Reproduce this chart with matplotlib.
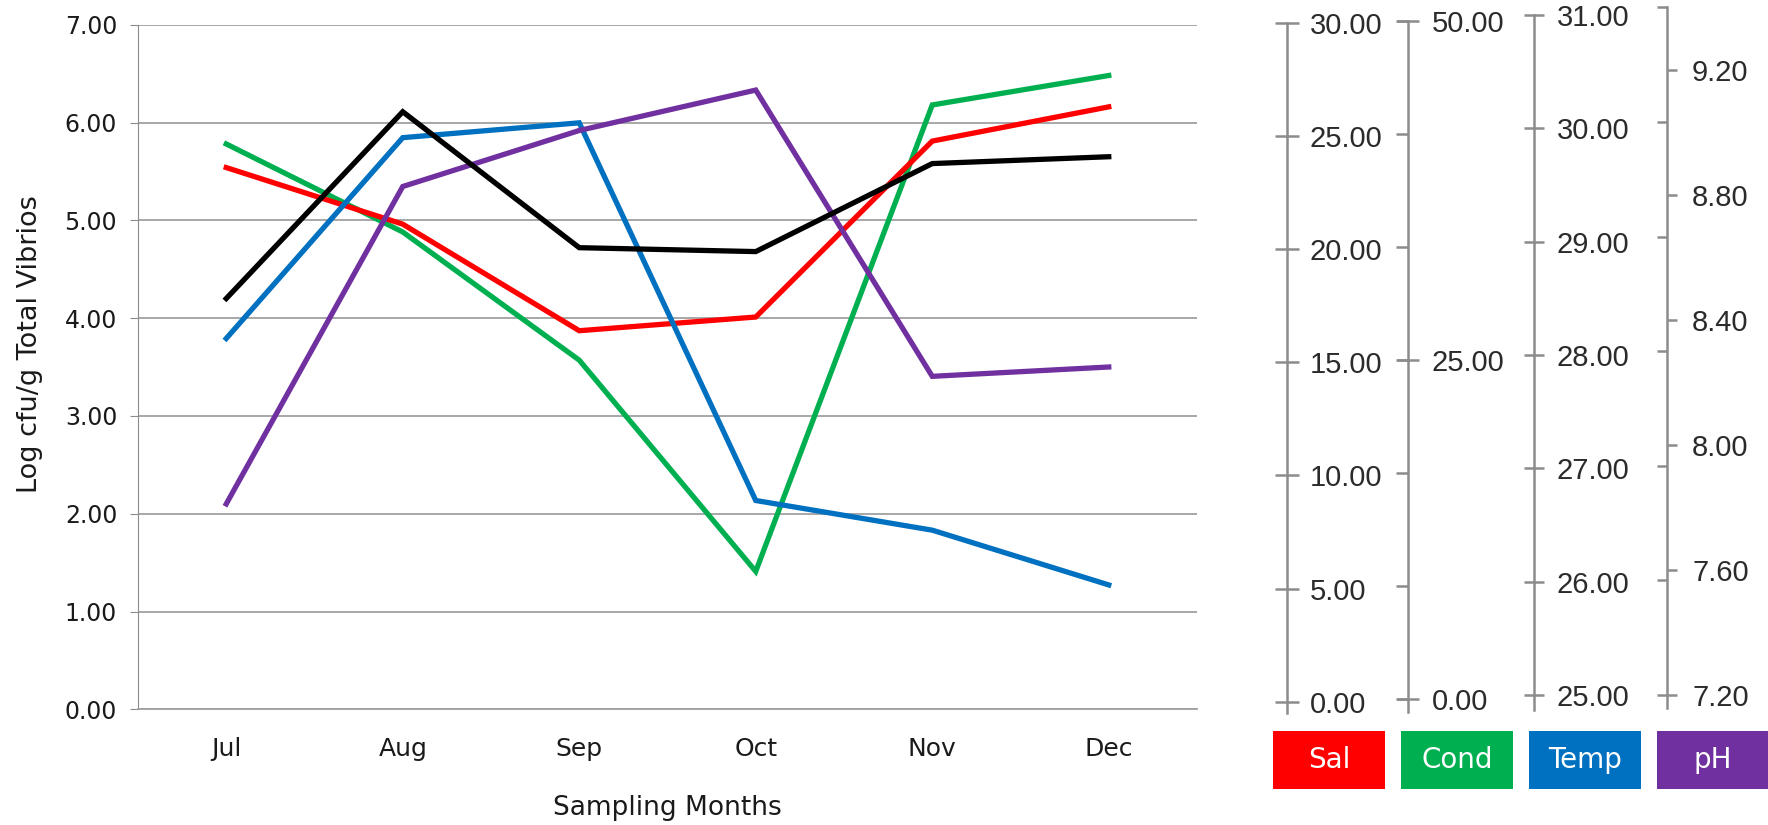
import numpy as np
import matplotlib
matplotlib.use('Agg')
import matplotlib.pyplot as plt
from matplotlib.patches import Rectangle
from matplotlib.ticker import FixedLocator, MultipleLocator, FormatStrFormatter

# data
months = ['Jul', 'Aug', 'Sep', 'Oct', 'Nov', 'Dec']
vibrios = [4.20, 6.11, 4.72, 4.68, 5.58, 5.65]          # log cfu/g
salinity = [23.74, 21.26, 16.59, 17.19, 24.90, 26.40]
conductivity = [41.29, 34.86, 25.50, 10.07, 44.14, 46.29]
temperature = [28.25, 30.01, 30.14, 26.83, 26.57, 26.09]
ph = [7.86, 8.88, 9.06, 9.19, 8.27, 8.30]

legend_labels = ['Sal', 'Cond', 'Temp', 'pH']
colors = ['#FF0000', '#00B050', '#0070C0', '#7030A0']
limits = [(0, 30), (0, 50), (25, 31), (7.2, 9.4)]

W, H = 1768, 825
gray = '#8c8c8c'
side_font = 'Liberation Sans'


def fx(px):
    return px / W


def fy(px):
    return 1 - px / H


fig = plt.figure(figsize=(W / 100, H / 100), dpi=100)

# main chart
ax = fig.add_axes([fx(138), fy(709.3), fx(1197) - fx(138), fy(24.7) - fy(709.3)])
x = np.arange(len(months))
ax.set_xlim(-0.5, len(months) - 0.5)
ax.set_ylim(0, 7)
ax.set_xticks(x)
ax.set_xticklabels(months)
ax.set_yticks(np.arange(0, 8, 1))
ax.yaxis.set_major_formatter(FormatStrFormatter('%.2f'))
ax.yaxis.grid(True, color='#a0a0a0', lw=1.3)
ax.set_axisbelow(True)
for s in ['top', 'right']:
    ax.spines[s].set_visible(False)
ax.spines['bottom'].set_color('#a0a0a0')
ax.spines['bottom'].set_linewidth(1.3)
ax.spines['left'].set_color(gray)
ax.tick_params(axis='x', length=0, pad=20, labelsize=18, labelcolor='#1a1a1a')
ax.tick_params(axis='y', length=6, color=gray, pad=9, labelsize=17, labelcolor='#1a1a1a')
ax.set_xlabel('Sampling Months', fontsize=19, color='#1a1a1a', va='center')
ax.xaxis.set_label_coords(0.5, -0.144)
ax.set_ylabel('Log cfu/g Total Vibrios', fontsize=19.5, color='#1a1a1a', va='center')
ax.yaxis.set_label_coords(-0.102, 0.534)

# each environmental variable on its own scale
order = [1, 0, 2, 3]
series = [salinity, conductivity, temperature, ph]
for i in order:
    t = ax.twinx()
    t.set_ylim(*limits[i])
    t.plot(x, series[i], color=colors[i], lw=3.8, solid_joinstyle='miter')
    t.set_axis_off()

tb = ax.twinx()
tb.set_ylim(ax.get_ylim())
tb.plot(x, vibrios, color='black', lw=3.8, solid_joinstyle='miter')
tb.set_axis_off()


# separate scale bars on the right
def side_axis(x_px, lo_val, hi_val, lo_px, hi_px, line_bottom_px):
    per = (hi_val - lo_val) / (lo_px - hi_px)
    bottom_val = lo_val - (line_bottom_px - lo_px) * per
    b, t = fy(line_bottom_px), fy(hi_px)
    a = fig.add_axes([fx(x_px) - 0.004, b, 0.004, t - b])
    a.set_ylim(bottom_val, hi_val)
    a.patch.set_visible(False)
    for s in ['left', 'top', 'bottom']:
        a.spines[s].set_visible(False)
    a.spines['right'].set_color(gray)
    a.spines['right'].set_linewidth(1.8)
    a.set_xticks([])
    a.yaxis.tick_right()
    a.yaxis.remove_overlapping_locs = False
    a.yaxis.set_major_formatter(FormatStrFormatter('%.2f'))
    return a


label_kw = dict(labelsize=21, labelcolor='#2b2b2b', labelfontfamily=side_font, color=gray, width=1.8)

sal_ax = side_axis(1287, 0, 30, 701.7, 22.7, 713)
sal_ax.yaxis.set_major_locator(MultipleLocator(5))
sal_ax.tick_params(which='major', direction='inout', length=17, pad=8, **label_kw)

cond_ax = side_axis(1408, 0, 50, 699, 20.7, 712)
cond_ax.yaxis.set_major_locator(FixedLocator([0, 25, 50]))
cond_ax.yaxis.set_minor_locator(FixedLocator(np.linspace(0, 50, 7)))
cond_ax.tick_params(which='major', direction='inout', length=16, pad=9, **label_kw)
cond_ax.tick_params(which='minor', direction='in', length=9, color=gray, width=1.8)

temp_ax = side_axis(1534, 25, 31, 695, 15, 710)
temp_ax.yaxis.set_major_locator(MultipleLocator(1))
temp_ax.tick_params(which='major', direction='inout', length=15, pad=9, **label_kw)

ph_ax = side_axis(1667, 7.2, 9.4, 695, 7.3, 708)
ph_ax.yaxis.set_major_locator(FixedLocator(np.arange(7.2, 9.21, 0.4)))
ph_ax.yaxis.set_minor_locator(FixedLocator(np.linspace(7.2, 9.4, 7)))
ph_ax.tick_params(which='major', direction='out', length=7, pad=11, **label_kw)
ph_ax.tick_params(which='minor', direction='in', length=7, color=gray, width=1.8)

# coloured legend boxes
for i, (lab, col) in enumerate(zip(legend_labels, colors)):
    x0 = 1273 + i * 128
    fig.patches.append(Rectangle((fx(x0), fy(789)), fx(112), (789 - 731) / H,
                                 transform=fig.transFigure, facecolor=col, edgecolor='none'))
    fig.text(fx(x0 + 56), fy(760), lab, color='white', ha='center', va='center', fontsize=20)

fig.savefig('out.png', dpi=100)
